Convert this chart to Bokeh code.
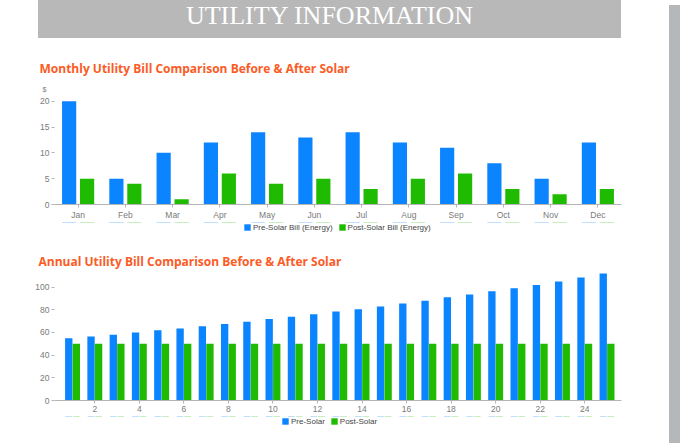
from bokeh.plotting import figure
from bokeh.models import (Range1d, FactorRange, ColumnDataSource, Legend, LegendItem,
                          Title, Div)
from bokeh.layouts import column, row
from bokeh.transform import dodge
from bokeh.embed import file_html
from bokeh.resources import INLINE

# ---------------- data ----------------
months = ["Jan", "Feb", "Mar", "Apr", "May", "Jun", "Jul", "Aug", "Sep", "Oct", "Nov", "Dec"]
pre_solar_monthly = [20, 5, 10, 12, 14, 13, 14, 12, 11, 8, 5, 12]
post_solar_monthly = [5, 4, 1, 6, 4, 5, 3, 5, 6, 3, 2, 3]

years = [1, 2, 3, 4, 5, 6, 7, 8, 9, 10, 11, 12, 13, 14, 15, 16, 17, 18, 19, 20, 21, 22, 23, 24, 25]
pre_solar_annual = [55, 56.5, 58, 60, 62, 63.5, 65.5, 67.5, 69.5, 72, 74, 76, 78.5, 80.5, 83,
                    85.5, 88, 91, 93.5, 96.5, 99, 102, 105, 108.5, 112]
post_solar_annual = [50, 50, 50, 50, 50, 50, 50, 50, 50, 50, 50, 50, 50, 50, 50,
                     50, 50, 50, 50, 50, 50, 50, 50, 50, 50]

monthly_ticks = [0, 5, 10, 15, 20]
annual_y_ticks = [0, 20, 40, 60, 80, 100]
annual_x_ticks = [2, 4, 6, 8, 10, 12, 14, 16, 18, 20, 22, 24]

# ---------------- style ----------------
BLUE = "#0a84ff"
GREEN = "#1fbb00"
ORANGE = "#fb5b25"
AXIS_GRAY = "#b4b4b4"
LABEL_GRAY = "#7a7a7a"
HEADER_GRAY = "#b8b8b8"
STRIP_GRAY = "#b5b8bb"
FW = 664
ML, MR = 54, 43   # same frame left/right for every figure


def style_axes(p, yticks):
    p.xgrid.visible = False
    p.ygrid.visible = False
    p.outline_line_color = None
    for ax in p.xaxis:
        ax.axis_line_color = AXIS_GRAY
        ax.major_tick_line_color = AXIS_GRAY
        ax.major_tick_in = 0
        ax.major_tick_out = 3
        ax.minor_tick_line_color = None
        ax.major_label_standoff = 2
        ax.major_label_text_font = "Liberation Sans"
        ax.major_label_text_font_size = "8.5px"
        ax.major_label_text_color = LABEL_GRAY
    for ax in p.yaxis:
        ax.ticker = yticks
        ax.axis_line_color = None
        ax.major_tick_line_color = AXIS_GRAY
        ax.major_tick_in = 0
        ax.major_tick_out = 3
        ax.minor_tick_line_color = None
        ax.major_label_standoff = 2
        ax.major_label_text_font = "Liberation Sans"
        ax.major_label_text_font_size = "8.5px"
        ax.major_label_text_color = LABEL_GRAY


def legend_figure(height, x_range, xcol, src, labels, loc, dodge_range=None):
    # legend strip: same series drawn far out of view (y range far below zero),
    # so only the legend itself is visible
    f = figure(width=FW, height=height, x_range=x_range, y_range=Range1d(-5000, -4999),
               min_border_left=ML, min_border_right=MR, min_border_top=0,
               min_border_bottom=0, toolbar_location=None, output_backend="svg")
    f.axis.visible = False
    f.grid.visible = False
    f.outline_line_color = None
    if dodge_range is not None:
        xa = dodge(xcol, -0.19, range=f.x_range)
        xb = dodge(xcol, 0.19, range=f.x_range)
    else:
        xa = dodge(xcol, -0.17)
        xb = dodge(xcol, 0.17)
    ra = f.vbar(x=xa, top="pre", width=0.3, source=src, fill_color=BLUE, line_color=None)
    rb = f.vbar(x=xb, top="post", width=0.3, source=src, fill_color=GREEN, line_color=None)
    f.add_layout(Legend(items=[LegendItem(label=labels[0], renderers=[ra]),
                               LegendItem(label=labels[1], renderers=[rb])],
                        orientation="horizontal", location=loc,
                        glyph_width=8, glyph_height=8, label_height=8, label_standoff=2,
                        spacing=5, padding=0, margin=0, border_line_color=None,
                        background_fill_alpha=0, label_text_font="Liberation Sans",
                        label_text_font_size="8px", label_text_color="#444444"))
    return f


# ---------------- header ----------------
header = Div(text="UTILITY INFORMATION", width=583, height=38, margin=(0, 0, 0, 38),
             styles={"background-color": HEADER_GRAY, "color": "white",
                     "font-family": "Liberation Serif", "font-size": "26px",
                     "text-align": "center", "line-height": "32px"})

# ---------------- monthly chart ----------------
src_m = ColumnDataSource(dict(month=months, pre=pre_solar_monthly, post=post_solar_monthly))
p1 = figure(x_range=FactorRange(factors=months), y_range=Range1d(0, 21.5),
            width=FW, height=184, min_border_left=ML, min_border_right=MR,
            min_border_top=55, min_border_bottom=17,
            toolbar_location=None, output_backend="svg")
p1.vbar(x=dodge("month", -0.19, range=p1.x_range), top="pre", width=0.30,
        source=src_m, fill_color=BLUE, line_color=None)
p1.vbar(x=dodge("month", 0.19, range=p1.x_range), top="post", width=0.30,
        source=src_m, fill_color=GREEN, line_color=None)
style_axes(p1, monthly_ticks)
p1.add_layout(Title(text="$", text_font="Liberation Sans", text_font_size="7px",
                    text_color=LABEL_GRAY, text_font_style="normal", align="left",
                    offset=-12, standoff=1), "above")
p1.add_layout(Title(text="Monthly Utility Bill Comparison Before & After Solar",
                    text_font="Open Sans", text_font_size="12px", text_font_style="bold",
                    text_color=ORANGE, align="left", offset=-15, standoff=14), "above")

leg1 = legend_figure(12, FactorRange(factors=months), "month", src_m,
                     ["Pre-Solar Bill (Energy)", "Post-Solar Bill (Energy)"], (189, 2.5),
                     dodge_range=True)

# ---------------- annual chart ----------------
src_a = ColumnDataSource(dict(year=years, pre=pre_solar_annual, post=post_solar_annual))
p2 = figure(x_range=Range1d(0.19, 25.65), y_range=Range1d(0, 114.7),
            width=FW, height=182, min_border_left=ML, min_border_right=MR,
            min_border_top=36, min_border_bottom=16,
            toolbar_location=None, output_backend="svg")
p2.vbar(x=dodge("year", -0.17), top="pre", width=0.33, source=src_a,
        fill_color=BLUE, line_color=None)
p2.vbar(x=dodge("year", 0.17), top="post", width=0.33, source=src_a,
        fill_color=GREEN, line_color=None)
style_axes(p2, annual_y_ticks)
p2.xaxis.ticker = annual_x_ticks
p2.add_layout(Title(text="Annual Utility Bill Comparison Before & After Solar",
                    text_font="Open Sans", text_font_size="12px", text_font_style="bold",
                    text_color=ORANGE, align="left", offset=-16, standoff=1), "above")

leg2 = legend_figure(25, Range1d(0.19, 25.65), "year", src_a,
                     ["Pre-Solar", "Post-Solar"], (227, 15.5))

# ---------------- right strip ----------------
strip = Div(text="", width=16, height=441, styles={"background-color": STRIP_GRAY})

layout = row(column(header, p1, leg1, p2, leg2, spacing=0), strip, spacing=0)

open("out.html", "w").write(file_html(layout, INLINE))
